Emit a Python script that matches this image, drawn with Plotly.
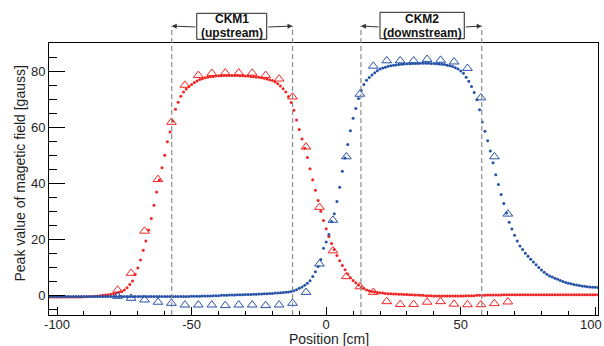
import plotly.graph_objects as go

# ---------------- data ----------------
# simulated peak field (dots), 1 cm grid from -103 cm to 101 cm
sim_x_start = -103
sim_x_end = 101
sim_upstream = [
    -0.5, -0.5, -0.5, -0.5, -0.5, -0.5, -0.5, -0.5, -0.5, -0.5,
    -0.5, -0.5, -0.5, -0.4, -0.4, -0.3, -0.3, -0.2, -0.1, 0.0,
    0.1, 0.2, 0.3, 0.5, 0.7, 0.9, 1.2, 1.5, 2.0, 2.8,
    4.0, 5.2, 7.6, 9.8, 12.7, 16.2, 19.5, 23.4, 27.5, 32.2,
    36.9, 41.2, 45.6, 50.0, 54.8, 58.3, 62.2, 66.4, 68.9, 71.0,
    72.5, 73.6, 74.5, 75.2, 75.9, 76.5, 77.0, 77.3, 77.6, 77.8,
    78.0, 78.1, 78.2, 78.3, 78.3, 78.4, 78.4, 78.4, 78.4, 78.4,
    78.4, 78.3, 78.3, 78.2, 78.2, 78.1, 78.0, 77.9, 77.8, 77.6,
    77.4, 77.2, 76.9, 76.6, 76.1, 75.5, 74.7, 73.7, 72.5, 70.9,
    68.8, 66.0, 62.6, 59.2, 55.8, 52.5, 49.2, 45.2, 41.3, 37.5,
    33.9, 30.1, 26.8, 23.8, 21.1, 18.6, 16.4, 14.3, 12.4, 10.7,
    9.2, 7.7, 6.4, 5.4, 4.6, 3.8, 3.1, 2.5, 2.0, 1.7,
    1.5, 1.3, 1.1, 1.0, 0.9, 0.8, 0.7, 0.7, 0.6, 0.6,
    0.5, 0.5, 0.4, 0.4, 0.3, 0.3, 0.2, 0.2, 0.1, 0.1,
    0.0, 0.0, 0.0, -0.1, -0.1, -0.1, -0.1, -0.1, -0.1, -0.1,
    -0.1, -0.1, -0.1, -0.1, -0.1, 0.0, 0.0, 0.0, 0.0, 0.1,
    0.1, 0.1, 0.1, 0.2, 0.2, 0.2, 0.2, 0.2, 0.2, 0.3,
    0.3, 0.3, 0.3, 0.3, 0.3, 0.3, 0.3, 0.3, 0.3, 0.3,
    0.3, 0.3, 0.3, 0.3, 0.3, 0.3, 0.3, 0.3, 0.3, 0.3,
    0.3, 0.3, 0.3, 0.3, 0.3, 0.3, 0.3, 0.3, 0.3, 0.3,
    0.3, 0.3, 0.3, 0.3, 0.3,
]
sim_downstream = [
    -0.3, -0.3, -0.3, -0.3, -0.3, -0.3, -0.3, -0.3, -0.3, -0.3,
    -0.3, -0.3, -0.3, -0.3, -0.3, -0.3, -0.3, -0.3, -0.3, -0.3,
    -0.3, -0.3, -0.3, -0.3, -0.3, -0.3, -0.3, -0.3, -0.3, -0.3,
    -0.3, -0.3, -0.3, -0.3, -0.3, -0.3, -0.3, -0.3, -0.3, -0.3,
    -0.3, -0.3, -0.3, -0.3, -0.3, -0.3, -0.3, -0.3, -0.3, -0.3,
    -0.3, -0.3, -0.3, -0.2, -0.2, -0.2, -0.2, -0.1, -0.1, -0.1,
    -0.1, 0.0, 0.0, 0.0, 0.1, 0.1, 0.1, 0.2, 0.2, 0.2,
    0.3, 0.3, 0.3, 0.4, 0.4, 0.4, 0.5, 0.5, 0.6, 0.6,
    0.7, 0.7, 0.8, 0.8, 0.9, 0.9, 1.0, 1.1, 1.2, 1.3,
    1.5, 1.7, 2.1, 2.6, 3.1, 3.7, 4.4, 5.3, 6.8, 8.5,
    10.4, 12.9, 16.9, 19.1, 21.8, 26.4, 29.2, 33.5, 38.6, 44.3,
    49.0, 53.8, 58.7, 63.2, 66.7, 70.2, 73.2, 75.2, 76.7, 77.7,
    78.6, 79.4, 80.1, 80.7, 81.1, 81.4, 81.7, 81.9, 82.1, 82.2,
    82.3, 82.4, 82.5, 82.6, 82.6, 82.7, 82.7, 82.7, 82.8, 82.8,
    82.8, 82.8, 82.7, 82.7, 82.6, 82.5, 82.4, 82.3, 82.1, 81.9,
    81.6, 81.2, 80.7, 80.0, 79.2, 77.8, 76.4, 74.5, 72.4, 69.8,
    66.2, 61.9, 58.6, 55.2, 51.5, 47.3, 43.1, 39.6, 36.0, 32.8,
    29.4, 26.1, 23.7, 21.5, 19.5, 17.7, 16.4, 15.1, 14.0, 13.0,
    12.0, 11.0, 10.0, 9.1, 8.3, 7.6, 7.0, 6.6, 6.2, 5.8,
    5.4, 5.0, 4.7, 4.4, 4.2, 4.0, 3.8, 3.6, 3.4, 3.3,
    3.2, 3.1, 3.0, 3.0, 2.9,
]
sim_x = list(range(sim_x_start, sim_x_end + 1))

# measured peak field (triangles)
meas_x = [
    -77.5, -72.5, -67.5, -62.5, -57.5, -52.5, -47.5, -42.5, -37.5, -32.5,
    -27.5, -22.5, -17.5, -12.5, -7.5, -2.5, 2.5, 7.5, 12.5, 17.5,
    22.5, 27.5, 32.5, 37.5, 42.5, 47.5, 52.5, 57.5, 62.5, 67.5,
]
meas_upstream = [
    2.0, 8.0, 23.0, 41.4, 61.8, 75.0, 78.5, 79.2, 79.4, 79.4,
    79.3, 78.5, 77.2, 70.8, 53.0, 31.5, 16.0, 6.8, 3.2, 1.2,
    -2.1, -3.1, -3.1, -2.3, -2.1, -3.0, -3.2, -3.2, -2.8, -2.2,
]
meas_downstream = [
    -0.2, -0.9, -1.5, -2.3, -2.7, -3.3, -3.3, -3.3, -3.5, -3.3,
    -3.3, -3.5, -3.3, -2.7, 1.2, 11.3, 26.9, 49.5, 71.8, 81.8,
    83.7, 83.7, 83.7, 84.2, 83.9, 83.3, 81.0, 70.5, 49.5, 29.1,
]

# magnet extents (dashed lines) and labels
ckm_names = ["CKM1", "CKM2"]
ckm_sub = ["(upstream)", "(downstream)"]
ckm_edges = [(-57.4, -12.5), (12.9, 57.8)]

x_ticks = [-100, -50, 0, 50, 100]
x_ticktext = ["-100", "-50", "0", "50", "100"]
y_ticks = [0, 20, 40, 60, 80]

# ---------------- styling ----------------
RED = "#f22424"
BLUE = "#2552a8"
FONT = "Liberation Sans, Arial, Helvetica, sans-serif"
TXT = "#1e1e1e"

fig = go.Figure()
fig.add_trace(go.Scatter(x=sim_x, y=sim_upstream, mode="markers",
                         marker=dict(color=RED, size=3, line=dict(width=0)),
                         showlegend=False, cliponaxis=True))
fig.add_trace(go.Scatter(x=sim_x, y=sim_downstream, mode="markers",
                         marker=dict(color=BLUE, size=3, line=dict(width=0)),
                         showlegend=False, cliponaxis=True))
fig.add_trace(go.Scatter(x=meas_x, y=meas_upstream, mode="markers",
                         marker=dict(symbol="triangle-up-open", color=RED, size=8.5,
                                     line=dict(width=1, color=RED)),
                         showlegend=False))
fig.add_trace(go.Scatter(x=meas_x, y=meas_downstream, mode="markers",
                         marker=dict(symbol="triangle-up-open", color=BLUE, size=8.5,
                                     line=dict(width=1, color=BLUE)),
                         showlegend=False))

# plot area geometry (pixels) for converting label positions
PL, PR = 49, 598
PT, PB = 43, 315  # top / bottom of plot area
PW = PR - PL
PH = PB - PT


def px(p):
    return (p - PL) / PW


def py(p):
    return (PB - p) / PH


shapes = []
annotations = []
box_edges = [(-48.1, -22.1), (20.0, 51.3)]
box_px = [(13.3, 39.3), (12.3, 38.7)]
name_px = [19.3, 19.0]
sub_px = [32.7, 32.7]
arrow_px = 26.0
for i, (x0, x1) in enumerate(ckm_edges):
    for xv in (x0, x1):
        shapes.append(dict(type="line", xref="x", yref="paper", x0=xv, x1=xv,
                           y0=0, y1=py(arrow_px),
                           line=dict(color="#8c8c8c", width=1.2, dash="5px,3px")))
    bx0, bx1 = box_edges[i]
    shapes.append(dict(type="rect", xref="x", yref="paper", x0=bx0, x1=bx1,
                       y0=py(box_px[i][1]), y1=py(box_px[i][0]),
                       fillcolor="white", line=dict(color="#222", width=1)))
    cx = (bx0 + bx1) / 2
    annotations.append(dict(x=cx, y=py(name_px[i]), xref="x", yref="paper",
                            text="<b>%s</b>" % ckm_names[i], showarrow=False,
                            font=dict(family=FONT, size=12, color="#111"),
                            xanchor="center", yanchor="middle"))
    annotations.append(dict(x=cx, y=py(sub_px[i]), xref="x", yref="paper",
                            text="<b>%s</b>" % ckm_sub[i], showarrow=False,
                            font=dict(family=FONT, size=12, color="#111"),
                            xanchor="center", yanchor="middle"))
    # arrows from box to dashed lines
    for tip, tail in ((x0, bx0), (x1, bx1)):
        annotations.append(dict(x=tip, y=py(arrow_px), xref="x", yref="paper",
                                ax=tail, ay=py(arrow_px), axref="x", ayref="y",
                                text="", showarrow=True, arrowhead=2,
                                arrowsize=1, arrowwidth=1, arrowcolor="#333",
                                standoff=0, startstandoff=0))

annotations.append(dict(x=px(19.5), y=py(174), xref="paper", yref="paper",
                        text="Peak value of magetic field [gauss]", showarrow=False,
                        textangle=-90, font=dict(family=FONT, size=14, color=TXT),
                        xanchor="center", yanchor="middle"))
annotations.append(dict(x=px(328.5), y=py(339), xref="paper", yref="paper",
                        text="Position [cm]", showarrow=False,
                        font=dict(family=FONT, size=14, color=TXT),
                        xanchor="center", yanchor="middle"))
# last x tick label sits at the page edge: place it so it stays fully visible
annotations.append(dict(x=px(603.5), y=py(324.5), xref="paper", yref="paper",
                        text=x_ticktext[-1], showarrow=False,
                        font=dict(family=FONT, size=13, color=TXT),
                        xanchor="right", yanchor="middle"))

fig.update_layout(
    width=604, height=346,
    margin=dict(l=PL, r=604 - PR, t=PT, b=346 - PB, pad=0, autoexpand=False),
    paper_bgcolor="white", plot_bgcolor="white",
    shapes=shapes, annotations=annotations,
    font=dict(family=FONT, color=TXT),
    xaxis=dict(range=[-103, 101], showgrid=False, zeroline=False, automargin=False,
               showline=True, linecolor="black", linewidth=1, mirror=True,
               ticks="inside", ticklen=8, tickcolor="black", tickwidth=1,
               tickvals=x_ticks, ticktext=x_ticktext[:-1] + [""],
               tickfont=dict(family=FONT, size=13, color=TXT),
               ticklabeloverflow="allow", ticklabelstandoff=-3,
               minor=dict(dtick=10, tick0=0, ticks="inside", ticklen=4,
                          tickcolor="black", tickwidth=1)),
    yaxis=dict(range=[-6.9, 90], showgrid=False, zeroline=False, automargin=False,
               showline=True, linecolor="black", linewidth=1, mirror=True,
               ticks="inside", ticklen=16, tickcolor="black", tickwidth=1,
               tickvals=y_ticks, ticktext=[str(v) for v in y_ticks],
               tickfont=dict(family=FONT, size=13, color=TXT),
               minor=dict(dtick=5, tick0=0, ticks="inside", ticklen=8,
                          tickcolor="black", tickwidth=1)),
)

fig.write_html("out.html")
